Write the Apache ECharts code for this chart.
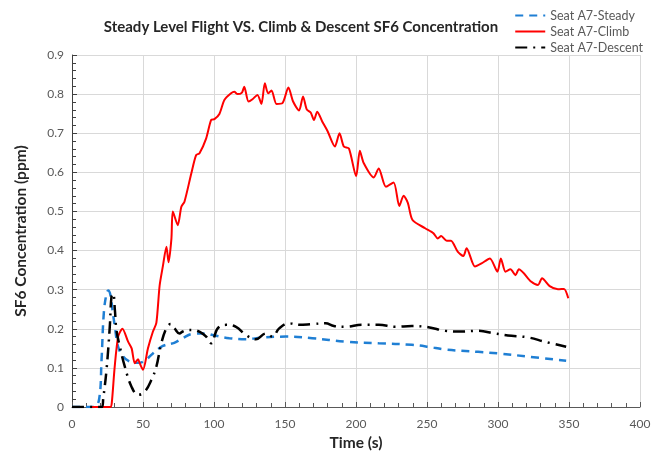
<!DOCTYPE html>
<html>
<head>
<meta charset="utf-8">
<script src="https://cdn.jsdelivr.net/npm/echarts@6/dist/echarts.min.js"></script>
<style>
    html, body { margin: 0; padding: 0; background: #fff; }
    #chart { width: 660px; height: 458px; }
</style>
</head>
<body>
<div id="chart"></div>
<script>
// values
var steadyT = [0, 15, 19, 20.8, 22.4, 24.3, 25.5, 27.1, 28.5, 30.2, 32.5, 36, 40.7, 46.5, 51.2, 57, 64, 72, 78, 85, 94.5, 99, 110.8, 122.5, 134.2, 150.6, 169.2, 192.6, 216, 239.3, 251, 262.8, 286, 300, 321, 348];
var steadyV = [0, 0, 0.018, 0.12, 0.24, 0.29, 0.298, 0.286, 0.248, 0.205, 0.154, 0.129, 0.116, 0.113, 0.118, 0.137, 0.156, 0.164, 0.176, 0.187, 0.188, 0.184, 0.176, 0.173, 0.178, 0.18, 0.176, 0.167, 0.163, 0.159, 0.154, 0.147, 0.141, 0.137, 0.129, 0.118];

var climbT = [13, 27, 28, 30, 32.5, 35.5, 39.5, 42, 44.2, 46.5, 47.7, 50, 53.5, 57, 59.4, 61.7, 64, 66.5, 68, 70, 71, 74.5, 77, 79.2, 84, 87.4, 89.8, 94.5, 98, 100.3, 103.8, 107.3, 112, 114.3, 116.6, 119.7, 121.3, 124.3, 127.1, 130.6, 133.4, 135.8, 138.1, 140.5, 144, 148.2, 152.4, 155.7, 159.9, 162.7, 165.3, 168.1, 170.4, 172.7, 176.2, 180, 185.1, 188.4, 191.4, 195, 200.1, 202.7, 205.5, 212.5, 216, 221.1, 226.5, 230.5, 233.5, 236.5, 239.8, 248.7, 254.6, 257.6, 260, 263.9, 266.9, 271.6, 275.6, 277.9, 283.8, 288.4, 294.3, 299.6, 302, 305.3, 308.8, 312.3, 314.7, 323.5, 328.2, 331, 336.4, 342.2, 346.5, 349.5];
var climbV = [0, 0, 0.01, 0.1, 0.18, 0.2, 0.167, 0.15, 0.112, 0.122, 0.112, 0.095, 0.15, 0.193, 0.215, 0.31, 0.36, 0.41, 0.37, 0.43, 0.5, 0.465, 0.512, 0.525, 0.597, 0.644, 0.649, 0.687, 0.734, 0.736, 0.749, 0.785, 0.802, 0.806, 0.8, 0.804, 0.819, 0.781, 0.787, 0.798, 0.775, 0.828, 0.802, 0.809, 0.775, 0.777, 0.817, 0.781, 0.758, 0.794, 0.761, 0.753, 0.734, 0.755, 0.73, 0.705, 0.666, 0.7, 0.666, 0.661, 0.59, 0.655, 0.623, 0.587, 0.61, 0.563, 0.574, 0.514, 0.54, 0.522, 0.478, 0.457, 0.444, 0.431, 0.437, 0.425, 0.425, 0.397, 0.386, 0.406, 0.359, 0.367, 0.38, 0.346, 0.38, 0.346, 0.352, 0.337, 0.352, 0.32, 0.312, 0.329, 0.309, 0.301, 0.302, 0.278];

var descentT = [0, 21, 22, 24.3, 26.6, 27.8, 29, 30.2, 31.3, 33.7, 37.2, 41.9, 46.5, 51.2, 55.9, 59.4, 62.9, 66.4, 69.4, 72.2, 75.7, 78, 81.6, 85, 90, 94.5, 98, 102.6, 108.5, 115.5, 122.5, 129.5, 136.5, 141.2, 145.9, 152.9, 159.9, 169.2, 178.6, 184.4, 192.6, 204.3, 216, 227.7, 239.3, 251, 262.8, 274.4, 286.1, 297.8, 309.5, 321.2, 332.9, 348];
var descentV = [0, 0, 0.022, 0.095, 0.205, 0.282, 0.29, 0.248, 0.197, 0.154, 0.103, 0.052, 0.031, 0.039, 0.069, 0.103, 0.163, 0.201, 0.212, 0.201, 0.188, 0.193, 0.197, 0.197, 0.192, 0.18, 0.163, 0.201, 0.21, 0.205, 0.184, 0.173, 0.188, 0.18, 0.201, 0.214, 0.21, 0.212, 0.214, 0.207, 0.205, 0.21, 0.21, 0.205, 0.207, 0.204, 0.195, 0.193, 0.195, 0.188, 0.182, 0.178, 0.167, 0.154];

var seriesNames = ['Seat A7-Steady', 'Seat A7-Climb', 'Seat A7-Descent'];

function pairs(t, v) {
    return t.map(function (x, i) {
        return [x, v[i]];
    });
}

var font = 'Lato, "Open Sans", sans-serif';
var chart = echarts.init(document.getElementById('chart'));

var axisLabel = { color: '#595959', fontSize: 12, fontFamily: font };
var nameStyle = { color: '#262626', fontSize: 15.5, fontWeight: 'bold', fontFamily: font };

var option = {
    backgroundColor: '#fff',
    animation: false,
    title: {
        text: 'Steady Level Flight VS. Climb & Descent SF6 Concentration',
        left: 296,
        textAlign: 'center',
        top: 15,
        textStyle: { color: '#262626', fontSize: 15, fontWeight: 'bold', fontFamily: font }
    },
    legend: {
        orient: 'vertical',
        right: 12,
        top: 4,
        itemWidth: 30,
        itemHeight: 13,
        itemGap: 3,
        itemStyle: { opacity: 0 },
        textStyle: { color: '#595959', fontSize: 12.5, fontFamily: font },
        data: seriesNames
    },
    grid: { left: 72, right: 20, top: 55, bottom: 51 },
    xAxis: {
        type: 'value',
        min: 0,
        max: 400,
        interval: 50,
        name: 'Time (s)',
        nameLocation: 'middle',
        nameGap: 27,
        nameTextStyle: nameStyle,
        axisLine: { show: true, lineStyle: { color: '#595959', width: 1 } },
        axisTick: { show: true, inside: true, length: 5, lineStyle: { color: '#595959' } },
        minorTick: { show: true, splitNumber: 5, length: 4, lineStyle: { color: '#595959' } },
        axisLabel: Object.assign({ margin: 11 }, axisLabel),
        splitLine: { show: true, lineStyle: { color: '#d9d9d9' } }
    },
    yAxis: {
        type: 'value',
        min: 0,
        max: 0.9,
        interval: 0.1,
        name: 'SF6 Concentration (ppm)',
        nameLocation: 'middle',
        nameGap: 43,
        nameTextStyle: nameStyle,
        axisLine: { show: true, lineStyle: { color: '#404040', width: 1 } },
        axisTick: { show: true, inside: true, length: 5, lineStyle: { color: '#404040' } },
        minorTick: { show: true, splitNumber: 5, length: 4, lineStyle: { color: '#404040' } },
        axisLabel: Object.assign({ margin: 8, formatter: function (v) { return +v.toFixed(1) + ''; } }, axisLabel),
        splitLine: { show: true, lineStyle: { color: '#d9d9d9' } }
    },
    series: [{
        name: seriesNames[0],
        type: 'line',
        symbol: 'none',
        smooth: 0.4,
        lineStyle: { color: '#1f7fd4', width: 2.5, type: [8, 6] },
        itemStyle: { color: '#1f7fd4' },
        data: pairs(steadyT, steadyV)
    }, {
        name: seriesNames[1],
        type: 'line',
        symbol: 'none',
        smooth: 0.25,
        lineStyle: { color: '#ff0000', width: 2 },
        itemStyle: { color: '#ff0000' },
        data: pairs(climbT, climbV)
    }, {
        name: seriesNames[2],
        type: 'line',
        symbol: 'none',
        smooth: 0.4,
        lineStyle: { color: '#000000', width: 2.5, type: [12, 6, 2, 6] },
        itemStyle: { color: '#000000' },
        data: pairs(descentT, descentV)
    }]
};

chart.setOption(option);
</script>
</body>
</html>
